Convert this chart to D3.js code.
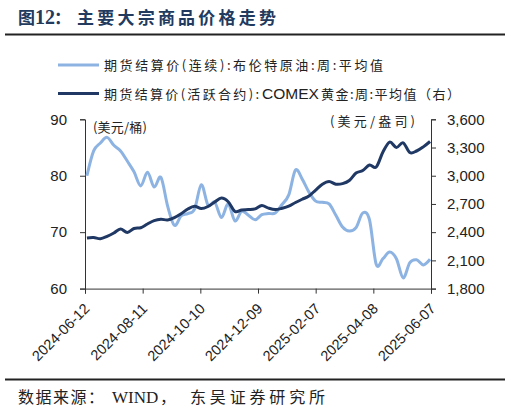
<!DOCTYPE html>
<html>
<head>
<meta charset="utf-8">
<script src="https://cdn.jsdelivr.net/npm/d3@7"></script>
<style>
  body { margin: 0; background: #fff; }
  svg { display: block; }
</style>
</head>
<body>
<script>
// weekly averages, Fridays from 2024-06-14
var firstWeek = "2024-06-14";

var brent = [80.0, 84.4, 85.8, 86.8, 85.4, 84.4, 82.6, 80.7, 78.2, 80.6,
  78.0, 79.7, 74.6, 71.2, 72.9, 73.3, 74.1, 78.4, 74.8, 75.3,
  72.6, 75.0, 72.0, 73.7, 73.0, 72.2, 73.1, 73.3, 73.4, 74.9,
  76.6, 81.0, 79.4, 77.1, 75.5, 75.3, 75.0, 73.0, 70.9, 70.2,
  70.8, 73.4, 72.2, 64.3, 65.3, 66.5, 65.3, 61.9, 64.6, 65.1,
  64.2, 65.2];

var gold = [2339, 2343, 2330, 2355, 2391, 2434, 2396, 2439, 2447, 2487,
  2523, 2537, 2530, 2555, 2596, 2646, 2675, 2651, 2673, 2721,
  2763, 2723, 2620, 2636, 2640, 2648, 2683, 2655, 2640, 2654,
  2676, 2715, 2750, 2784, 2848, 2910, 2939, 2910, 2916, 2949,
  3029, 3055, 3114, 3093, 3252, 3358, 3300, 3350, 3247, 3263,
  3307, 3364];

var xTickLabels = ["2024-06-12", "2024-08-11", "2024-10-10", "2024-12-09",
  "2025-02-07", "2025-04-08", "2025-06-07"];
var leftTicks = [60, 70, 80, 90];
var rightTicks = [1800, 2100, 2400, 2700, 3000, 3300, 3600];

var parse = d3.timeParse("%Y-%m-%d");
var start = parse(firstWeek);
var dates = brent.map(function (d, i) { return d3.timeDay.offset(start, 7 * i); });
var xTicks = xTickLabels.map(parse);

var W = 510, H = 413;
var plot = {left: 85, right: 431, top: 119.3, bottom: 288.6};
var lightBlue = "#8db3e2", navy = "#1f3864";
var latin = "'Liberation Sans', Arial, sans-serif";
var serif = "'Liberation Serif', 'Times New Roman', serif";
var cjk = "'Noto Sans CJK SC', sans-serif";

var svg = d3.select("body").append("svg")
  .attr("width", W)
  .attr("height", H);

// title + rule
var title = svg.append("g")
  .attr("fill", "#213a5e").attr("font-weight", "bold");
title.append("text").attr("x", 18).attr("y", 24)
  .attr("font-family", cjk).attr("font-size", "17px").text("图");
title.append("text").attr("x", 35).attr("y", 24)
  .attr("font-family", serif).attr("font-size", "20px").text("12");
title.append("text").attr("x", 54).attr("y", 24)
  .attr("font-family", cjk).attr("font-size", "17px").text("：");
title.append("text").attr("x", 77).attr("y", 24)
  .attr("font-family", cjk).attr("font-size", "17px")
  .attr("textLength", 199).attr("lengthAdjust", "spacing")
  .text("主要大宗商品价格走势");

svg.append("line")
  .attr("x1", 5).attr("x2", 505).attr("y1", 34.5).attr("y2", 34.5)
  .attr("stroke", "#222").attr("stroke-width", 2);

// legend
var legend = svg.append("g")
  .attr("font-family", cjk).attr("font-size", "13px").attr("fill", "#222");

legend.append("line")
  .attr("x1", 58).attr("x2", 99).attr("y1", 65).attr("y2", 65)
  .attr("stroke", lightBlue).attr("stroke-width", 3);
legend.append("text")
  .attr("x", 104).attr("y", 70)
  .attr("textLength", 279).attr("lengthAdjust", "spacing")
  .text("期货结算价(连续):布伦特原油:周:平均值");

legend.append("line")
  .attr("x1", 58).attr("x2", 99).attr("y1", 93.5).attr("y2", 93.5)
  .attr("stroke", navy).attr("stroke-width", 3);
var row2 = legend.append("g");
row2.append("text")
  .attr("x", 104).attr("y", 98.5)
  .attr("textLength", 155).attr("lengthAdjust", "spacing")
  .text("期货结算价(活跃合约):");
row2.append("text")
  .attr("x", 262).attr("y", 99)
  .attr("font-family", latin).attr("font-size", "15.5px")
  .text("COMEX");
row2.append("text")
  .attr("x", 321).attr("y", 98.5)
  .attr("textLength", 139).attr("lengthAdjust", "spacing")
  .text("黄金:周:平均值（右）");

// scales
var x = d3.scaleTime()
  .domain([xTicks[0], xTicks[xTicks.length - 1]])
  .range([plot.left, plot.right]);
var yL = d3.scaleLinear().domain([60, 90]).range([plot.bottom, plot.top]);
var yR = d3.scaleLinear().domain([1800, 3600]).range([plot.bottom, plot.top]);

// axes
var xAxis = svg.append("g")
  .attr("transform", "translate(0," + plot.bottom + ")")
  .call(d3.axisBottom(x).tickValues(xTicks).tickSize(5).tickFormat(""));

xAxis.selectAll(".tick").append("text")
  .attr("class", "xlab")
  .attr("text-anchor", "end")
  .attr("transform", "translate(5,21) rotate(-45)")
  .text(function (d, i) { return xTickLabels[i]; });

var leftAxis = svg.append("g")
  .attr("transform", "translate(" + plot.left + ",0)")
  .call(d3.axisLeft(yL).tickValues(leftTicks).tickSize(5).tickPadding(13));

var rightAxis = svg.append("g")
  .attr("transform", "translate(" + plot.right + ",0)")
  .call(d3.axisRight(yR).tickValues(rightTicks).tickSize(5).tickPadding(11)
    .tickFormat(d3.format(",")));

[xAxis, leftAxis, rightAxis].forEach(function (a) {
  a.select(".domain").attr("stroke", "#333");
  a.selectAll(".tick line").attr("stroke", "#333");
  a.selectAll(".tick text").attr("font-family", latin).attr("font-size", "15px").attr("fill", "#222");
});
xAxis.selectAll(".xlab").attr("font-size", "14.5px");

// units
svg.append("text")
  .attr("x", 93).attr("y", 132)
  .attr("font-family", cjk).attr("font-size", "13px").attr("fill", "#222")
  .attr("textLength", 54).attr("lengthAdjust", "spacing")
  .text("(美元/桶)");
svg.append("text")
  .attr("x", 330).attr("y", 126)
  .attr("font-family", cjk).attr("font-size", "13px").attr("fill", "#222")
  .attr("textLength", 85).attr("lengthAdjust", "spacing")
  .text("(美元/盎司)");

// lines
var curve = d3.curveCardinal.tension(0);

svg.append("path")
  .datum(brent)
  .attr("fill", "none")
  .attr("stroke", lightBlue)
  .attr("stroke-width", 3)
  .attr("stroke-linejoin", "round")
  .attr("d", d3.line()
    .x(function (d, i) { return x(dates[i]); })
    .y(function (d) { return yL(d); })
    .curve(curve));

svg.append("path")
  .datum(gold)
  .attr("fill", "none")
  .attr("stroke", navy)
  .attr("stroke-width", 3)
  .attr("stroke-linejoin", "round")
  .attr("d", d3.line()
    .x(function (d, i) { return x(dates[i]); })
    .y(function (d) { return yR(d); })
    .curve(curve));

// source
svg.append("line")
  .attr("x1", 5).attr("x2", 505).attr("y1", 379.5).attr("y2", 379.5)
  .attr("stroke", "#222").attr("stroke-width", 2);

var source = svg.append("g").attr("fill", "#222").attr("font-size", "16px");
source.append("text").attr("x", 18).attr("y", 403)
  .attr("font-family", cjk)
  .attr("textLength", 86).attr("lengthAdjust", "spacing")
  .text("数据来源：");
source.append("text").attr("x", 112).attr("y", 403)
  .attr("font-family", serif).attr("font-size", "17px")
  .text("WIND");
source.append("text").attr("x", 160).attr("y", 403)
  .attr("font-family", cjk)
  .text("，");
source.append("text").attr("x", 190).attr("y", 403)
  .attr("font-family", cjk)
  .attr("textLength", 135).attr("lengthAdjust", "spacing")
  .text("东吴证券研究所");
</script>
</body>
</html>
